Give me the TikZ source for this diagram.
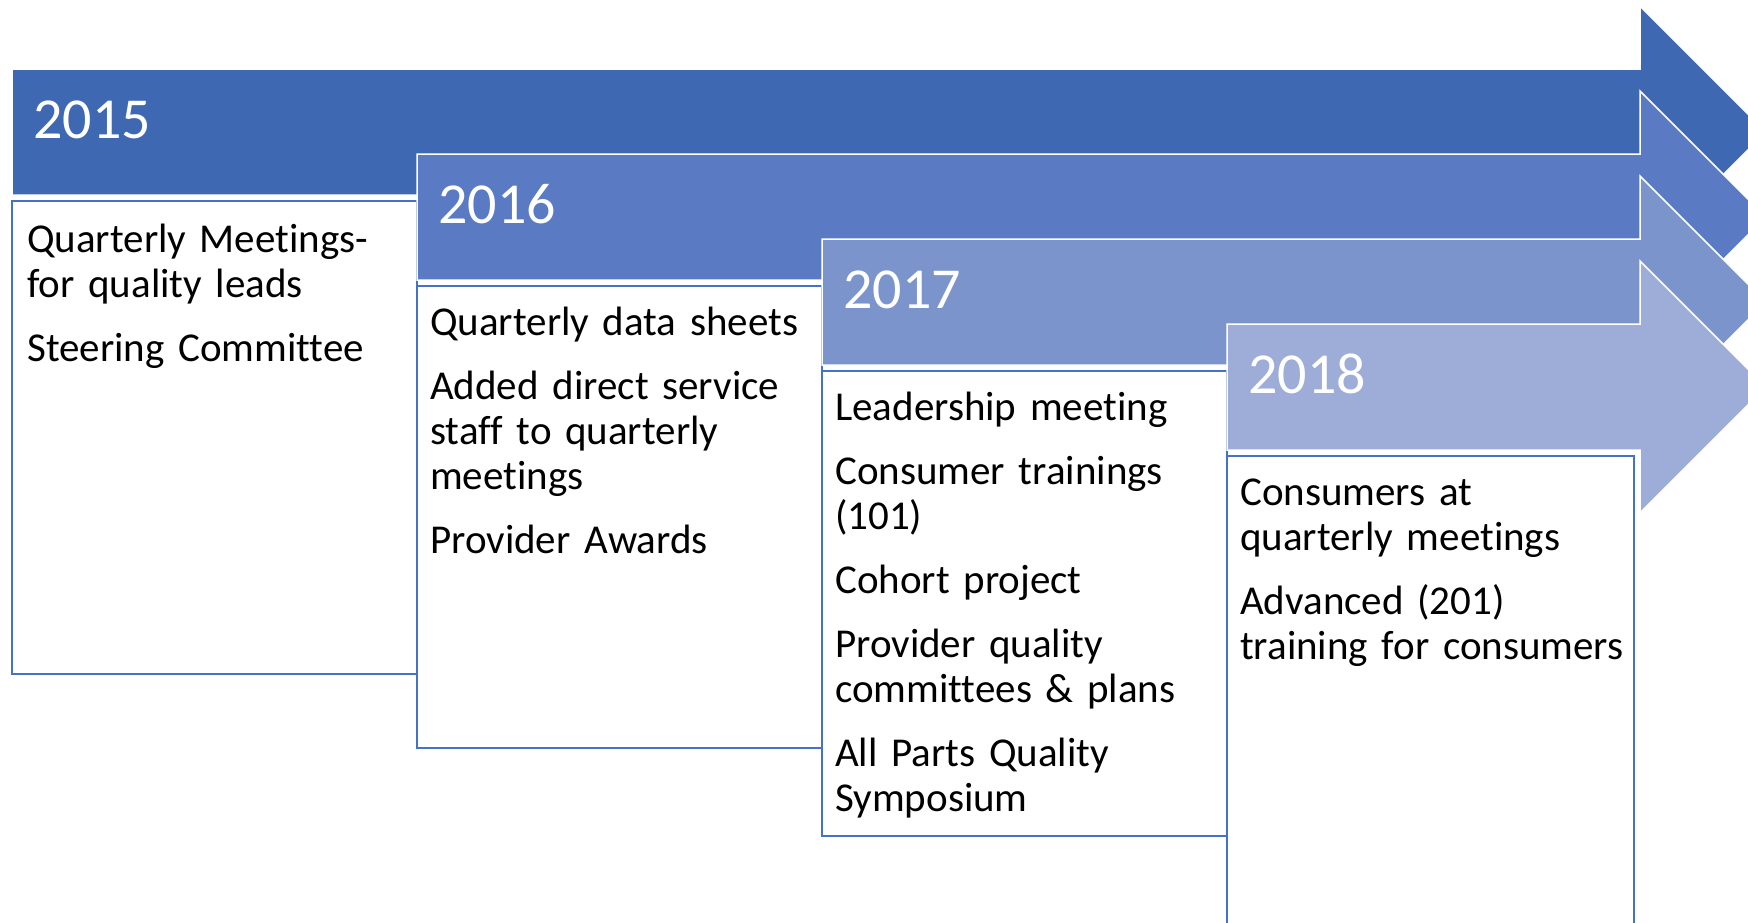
\documentclass[tikz,border=0pt]{standalone}
\usepackage{fontspec}
\setmainfont[Ligatures=NoCommon]{Carlito}
\definecolor{cA}{RGB}{62,104,177}
\definecolor{cB}{RGB}{90,123,195}
\definecolor{cC}{RGB}{123,149,204}
\definecolor{cD}{RGB}{158,173,215}
\definecolor{boxblue}{RGB}{68,114,196}
\newcommand\timearrow[3]{%
  \filldraw[band,fill=#3] (#1,#2) -- (1640,#2) -- (1640,#2-63) -- (1766,#2+63) -- (1640,#2+189) -- (1640,#2+126) -- (#1,#2+126) -- cycle;}
\begin{document}
\begin{tikzpicture}[x=1pt,y=-1pt,
  band/.style={draw=white,line width=1.5pt,line join=miter},
  card/.style={fill=white,draw=boxblue,line width=2pt},
  yeartext/.style={anchor=base west,inner sep=0pt,text=white,font=\fontsize{58}{70}\selectfont},
  itemtext/.style={anchor=base west,inner sep=0pt,text width=400pt,align=left,font=\fontsize{41}{45}\selectfont}]
\useasboundingbox (0,0) rectangle (1748,922);
\clip (0,0) rectangle (1748,922);
\fill[white] (0,0) rectangle (1748,922);
% 2015
\timearrow{12}{69}{cA}
\draw[card] (12,201) rectangle (417,674);
\node[yeartext] (y15) at (33,138) {2015};
\node[itemtext] (t15) at (27,252) {Quarterly Meetings-\\for quality leads\\[19pt]Steering Committee};
% 2016
\timearrow{417}{154}{cB}
\draw[card] (417,286) rectangle (822,748);
\node[yeartext] (y16) at (438,223) {2016};
\node[itemtext] (t16) at (430,335) {Quarterly data sheets\\[19pt]Added direct service\\staff to quarterly\\meetings\\[19pt]Provider Awards};
% 2017
\timearrow{822}{239}{cC}
\draw[card] (822,371) rectangle (1227,836);
\node[yeartext] (y17) at (843,308) {2017};
\node[itemtext] (t17) at (835,420) {Leadership meeting\\[19pt]Consumer trainings\\(101)\\[19pt]Cohort project\\[19pt]Provider quality\\committees \& plans\\[19pt]All Parts Quality\\Symposium};
% 2018
\timearrow{1227}{324}{cD}
\draw[card] (1227,456) rectangle (1634,940);
\node[yeartext] (y18) at (1248,393) {2018};
\node[itemtext] (t18) at (1240,505) {Consumers at\\quarterly meetings\\[19pt]Advanced (201)\\training for consumers};
\end{tikzpicture}
\end{document}
